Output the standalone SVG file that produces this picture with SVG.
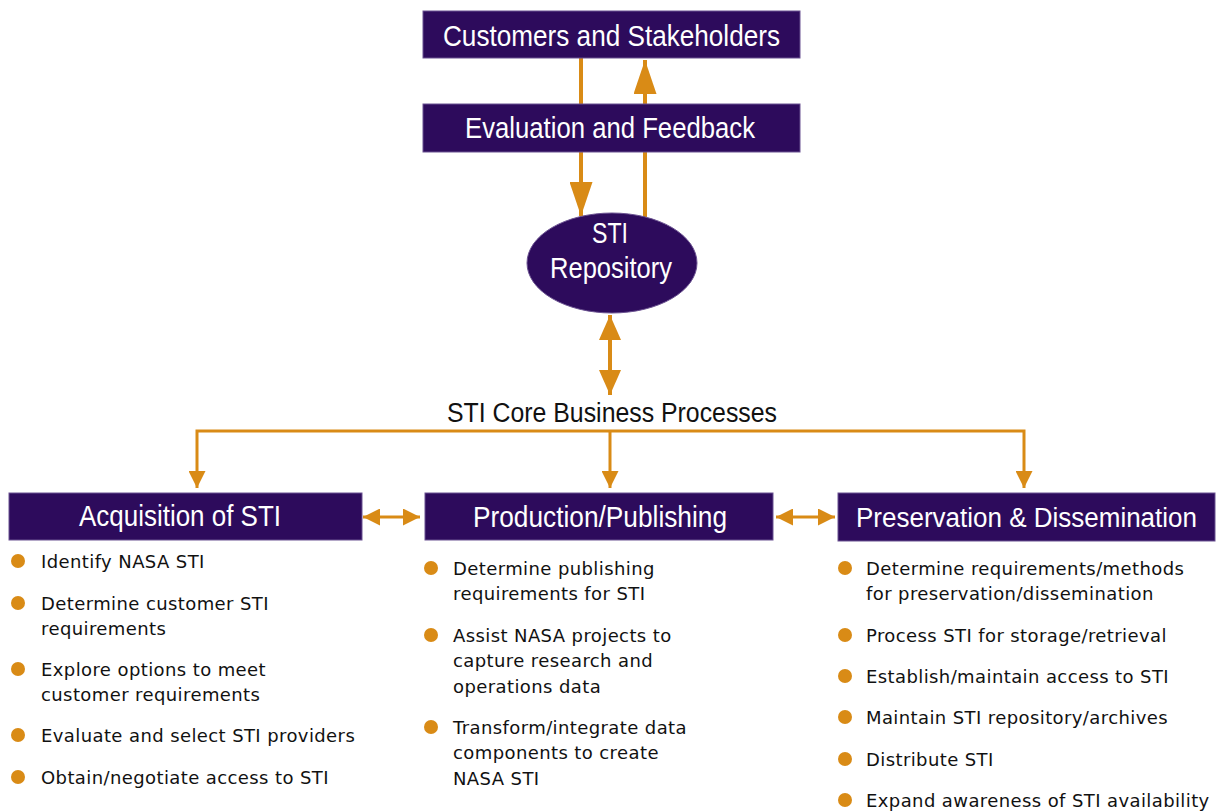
<svg xmlns="http://www.w3.org/2000/svg" width="1217" height="812" viewBox="0 0 1217 812">
<style>
.box{fill:#2d0b5c;stroke:#6b5291;stroke-width:1}
.ttl{font-family:"Liberation Sans",Arial,sans-serif;fill:#fff;font-size:29px;text-anchor:middle}
.core{font-family:"Liberation Sans",Arial,sans-serif;fill:#111;font-size:27px;text-anchor:middle}
.con{stroke:#d98b16;fill:none}
.dot{fill:#d98b16}
.bl{font-family:"DejaVu Sans",Verdana,sans-serif;fill:#111;font-size:18px;letter-spacing:0.4px}
</style>
<defs>
<marker id="ahL" markerUnits="userSpaceOnUse" viewBox="0 0 34 23" markerWidth="34" markerHeight="23" refX="34" refY="11.5" orient="auto-start-reverse"><path d="M0,0 L34,11.5 L0,23 z" fill="#d98b16"/></marker>
<marker id="ahM" markerUnits="userSpaceOnUse" viewBox="0 0 25 22" markerWidth="25" markerHeight="22" refX="25" refY="11" orient="auto-start-reverse"><path d="M0,0 L25,11 L0,22 z" fill="#d98b16"/></marker>
<marker id="ahS" markerUnits="userSpaceOnUse" viewBox="0 0 17 17" markerWidth="17" markerHeight="17" refX="17" refY="8.5" orient="auto-start-reverse"><path d="M0,0 L17,8.5 L0,17 z" fill="#d98b16"/></marker>
</defs>

<g id="connectors">
<line class="con" stroke-width="4" x1="581" y1="58" x2="581" y2="104"/>
<line class="con" stroke-width="4" x1="581" y1="152" x2="581" y2="216" marker-end="url(#ahL)"/>
<line class="con" stroke-width="4" x1="645" y1="217" x2="645" y2="152"/>
<line class="con" stroke-width="4" x1="645" y1="104" x2="645" y2="60" marker-end="url(#ahL)"/>
<line class="con" stroke-width="4" x1="610" y1="315" x2="610" y2="395" marker-start="url(#ahM)" marker-end="url(#ahM)"/>
<path class="con" stroke-width="3" d="M197,488 L197,431 L1024,431 L1024,488" marker-start="url(#ahS)" marker-end="url(#ahS)"/>
<line class="con" stroke-width="3" x1="610" y1="431" x2="610" y2="488" marker-end="url(#ahS)"/>
<line class="con" stroke-width="3" x1="363" y1="517" x2="420" y2="517" marker-start="url(#ahS)" marker-end="url(#ahS)"/>
<line class="con" stroke-width="3" x1="776" y1="517" x2="835" y2="517" marker-start="url(#ahS)" marker-end="url(#ahS)"/>
</g>

<g id="customers">
<rect class="box" x="423" y="11" width="377" height="47"/>
<text class="ttl" x="611.5" y="46" textLength="337" lengthAdjust="spacingAndGlyphs">Customers and Stakeholders</text>
</g>
<g id="evaluation">
<rect class="box" x="423" y="104" width="377" height="48"/>
<text class="ttl" x="610" y="138" textLength="290" lengthAdjust="spacingAndGlyphs">Evaluation and Feedback</text>
</g>
<g id="repository">
<ellipse class="box" cx="612" cy="263" rx="85" ry="50"/>
<text class="ttl" x="610" y="243" textLength="36" lengthAdjust="spacingAndGlyphs">STI</text>
<text class="ttl" x="611" y="278" textLength="122" lengthAdjust="spacingAndGlyphs">Repository</text>
</g>
<g id="core">
<text class="core" x="612" y="422" textLength="330" lengthAdjust="spacingAndGlyphs">STI Core Business Processes</text>
</g>

<g id="acquisition">
<rect class="box" x="9" y="493" width="353" height="47"/>
<text class="ttl" x="180" y="526" textLength="202" lengthAdjust="spacingAndGlyphs">Acquisition of STI</text>
<circle class="dot" cx="18" cy="561" r="7"/>
<text class="bl" x="41" y="568">Identify NASA STI</text>
<circle class="dot" cx="18" cy="603" r="7"/>
<text class="bl" x="41" y="610">Determine customer STI</text>
<text class="bl" x="41" y="635">requirements</text>
<circle class="dot" cx="18" cy="669" r="7"/>
<text class="bl" x="41" y="676">Explore options to meet</text>
<text class="bl" x="41" y="701">customer requirements</text>
<circle class="dot" cx="18" cy="735" r="7"/>
<text class="bl" x="41" y="742">Evaluate and select STI providers</text>
<circle class="dot" cx="18" cy="777" r="7"/>
<text class="bl" x="41" y="784">Obtain/negotiate access to STI</text>
</g>

<g id="production">
<rect class="box" x="425" y="493" width="348" height="47"/>
<text class="ttl" x="600" y="527" textLength="254" lengthAdjust="spacingAndGlyphs">Production/Publishing</text>
<circle class="dot" cx="431" cy="568" r="7"/>
<text class="bl" x="453" y="575">Determine publishing</text>
<text class="bl" x="453" y="600">requirements for STI</text>
<circle class="dot" cx="431" cy="635" r="7"/>
<text class="bl" x="453" y="642">Assist NASA projects to</text>
<text class="bl" x="453" y="667">capture research and</text>
<text class="bl" x="453" y="693">operations data</text>
<circle class="dot" cx="431" cy="727" r="7"/>
<text class="bl" x="453" y="734">Transform/integrate data</text>
<text class="bl" x="453" y="759">components to create</text>
<text class="bl" x="453" y="785">NASA STI</text>
</g>

<g id="preservation">
<rect class="box" x="838" y="493" width="377" height="48"/>
<text class="ttl" x="1026.5" y="527" style="font-size:27px" textLength="341" lengthAdjust="spacingAndGlyphs">Preservation &amp; Dissemination</text>
<circle class="dot" cx="845" cy="568" r="7"/>
<text class="bl" x="866" y="575">Determine requirements/methods</text>
<text class="bl" x="866" y="600">for preservation/dissemination</text>
<circle class="dot" cx="845" cy="635" r="7"/>
<text class="bl" x="866" y="642">Process STI for storage/retrieval</text>
<circle class="dot" cx="845" cy="676" r="7"/>
<text class="bl" x="866" y="683">Establish/maintain access to STI</text>
<circle class="dot" cx="845" cy="717" r="7"/>
<text class="bl" x="866" y="724">Maintain STI repository/archives</text>
<circle class="dot" cx="845" cy="759" r="7"/>
<text class="bl" x="866" y="766">Distribute STI</text>
<circle class="dot" cx="845" cy="800" r="7"/>
<text class="bl" x="866" y="807">Expand awareness of STI availability</text>
</g>
</svg>
